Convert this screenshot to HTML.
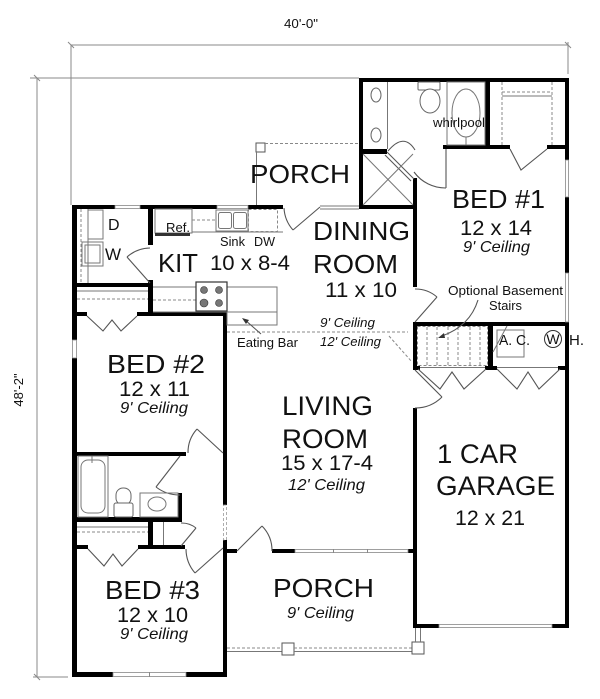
<!DOCTYPE html>
<html><head><meta charset="utf-8"><style>
html,body{margin:0;padding:0;background:#fff;width:600px;height:699px;overflow:hidden;}
svg{display:block;}
text{font-family:"Liberation Sans",Arial,sans-serif;fill:#111;}
.i{font-style:italic;}
.t{stroke:#777;stroke-width:1;fill:none;}
.d{stroke:#555;stroke-width:1.1;fill:none;}
.ds{stroke:#888;stroke-width:1;fill:none;stroke-dasharray:3 2;}
.win{fill:#fff;stroke:#888;stroke-width:0.8;}
.fx{stroke:#666;stroke-width:1;fill:#fff;}
</style></head><body>
<svg width="600" height="699" viewBox="0 0 600 699" xmlns="http://www.w3.org/2000/svg">
<g stroke="#888" stroke-width="1" fill="none">
<line x1="71" y1="45" x2="568" y2="45"/>
<line x1="68" y1="42" x2="74" y2="48"/>
<line x1="565" y1="42" x2="571" y2="48"/>
<line x1="71" y1="45" x2="71" y2="205"/>
<line x1="568" y1="42" x2="568" y2="74"/>
<line x1="30" y1="78" x2="359" y2="78"/>
<line x1="37" y1="78" x2="37" y2="677"/>
<line x1="34" y1="75" x2="40" y2="81"/>
<line x1="34" y1="674" x2="40" y2="680"/>
<line x1="33" y1="677" x2="68" y2="677"/>
</g>
<text x="284" y="28" font-size="12.5" textLength="34" lengthAdjust="spacingAndGlyphs">40'-0"</text>
<text transform="translate(23,390) rotate(-90)" text-anchor="middle" font-size="13">48'-2"</text>

<rect x="256" y="143" width="9" height="9" fill="#fff" stroke="#555" stroke-width="1"/>
<line x1="265" y1="143.5" x2="359" y2="143.5" class="ds"/>
<line x1="256.5" y1="152" x2="256.5" y2="205" class="t"/>
<line x1="320" y1="206" x2="359" y2="206" class="t"/>
<line x1="320" y1="209" x2="359" y2="209" class="t"/>

<line x1="227" y1="648" x2="282" y2="648" class="ds"/>
<line x1="227" y1="651.5" x2="282" y2="651.5" class="t"/>
<rect x="282" y="643" width="12" height="12" fill="#fff" stroke="#555"/>
<line x1="294" y1="648" x2="412" y2="648" class="ds"/>
<line x1="294" y1="651.5" x2="412" y2="651.5" class="t"/>
<rect x="412" y="642" width="12" height="12" fill="#fff" stroke="#555"/>
<line x1="415.5" y1="628" x2="415.5" y2="642" class="t"/>
<line x1="420.5" y1="628" x2="420.5" y2="642" class="t"/>

<g fill="#000">
<rect x="72" y="205" width="5" height="135"/>
<rect x="72" y="358" width="5" height="319"/>
<rect x="72" y="205" width="43" height="4"/>
<rect x="140" y="205" width="77" height="4"/>
<rect x="248" y="205" width="35" height="4"/>
<rect x="148" y="205" width="5" height="40"/>
<rect x="148" y="280" width="5" height="36"/>
<rect x="72" y="283" width="78" height="4"/>
<rect x="72" y="312" width="15" height="4"/>
<rect x="137" y="312" width="90" height="4"/>
<rect x="223" y="312" width="4" height="193"/>
<rect x="223" y="540" width="4" height="137"/>
<rect x="72" y="452" width="114" height="4"/>
<rect x="178" y="493" width="4" height="29"/>
<rect x="72" y="517" width="110" height="5"/>
<rect x="148" y="517" width="5" height="31"/>
<rect x="72" y="545" width="16" height="4"/>
<rect x="138" y="545" width="47" height="4"/>
<rect x="72" y="672" width="41" height="5"/>
<rect x="186" y="672" width="41" height="5"/>
<rect x="223" y="549" width="14" height="4"/>
<rect x="272" y="549" width="23" height="4"/>
<rect x="408" y="549" width="9" height="4"/>
<rect x="413" y="178" width="4" height="109"/>
<rect x="413" y="322" width="4" height="48"/>
<rect x="413" y="408" width="4" height="220"/>
<rect x="359" y="78" width="4" height="131"/>
<rect x="359" y="149" width="28" height="5"/>
<rect x="359" y="205" width="58" height="4"/>
<rect x="359" y="78" width="210" height="4"/>
<rect x="485" y="78" width="5" height="71"/>
<rect x="443" y="145" width="67" height="4"/>
<rect x="547" y="145" width="22" height="4"/>
<rect x="565" y="78" width="4" height="82"/>
<rect x="565" y="197" width="4" height="76"/>
<rect x="565" y="322" width="4" height="306"/>
<rect x="413" y="322" width="156" height="4"/>
<rect x="488" y="322" width="5" height="48"/>
<rect x="413" y="366" width="7" height="4"/>
<rect x="485" y="366" width="12" height="4"/>
<rect x="558" y="366" width="11" height="4"/>
<rect x="413" y="624" width="26" height="4"/>
<rect x="552" y="624" width="17" height="4"/>
</g>
<line x1="420" y1="367.5" x2="485" y2="367.5" class="t"/>
<line x1="497" y1="367.5" x2="558" y2="367.5" class="t"/>

<rect x="72.5" y="340" width="4" height="18" class="win"/>
<rect x="115" y="205.5" width="25" height="3" class="win"/>
<rect x="217" y="205.5" width="31" height="3" class="win"/>
<rect x="223.5" y="505" width="3" height="35" fill="#fff" stroke="#999" stroke-width="0.8" stroke-dasharray="3 2"/>
<rect x="113" y="672.5" width="73" height="4" class="win"/>
<line x1="149.5" y1="672" x2="149.5" y2="677" stroke="#888"/>
<rect x="295" y="549.5" width="113" height="3" class="win"/>
<line x1="333.5" y1="549" x2="333.5" y2="553" stroke="#888"/>
<line x1="367.5" y1="549" x2="367.5" y2="553" stroke="#888"/>
<rect x="565.5" y="160" width="3" height="37" class="win"/>
<rect x="565.5" y="273" width="3" height="49" class="win"/>
<rect x="439" y="624.5" width="113" height="3" class="win"/>

<g class="d">
<line x1="320" y1="207" x2="293" y2="230"/><path d="M293,230 A36,36 0 0 1 284,208"/>
<line x1="415" y1="322" x2="437" y2="297"/><path d="M437,297 A33,33 0 0 0 415,289"/>
<line x1="415" y1="370" x2="442" y2="397"/><path d="M442,397 A38,38 0 0 1 415,408"/>
<line x1="237" y1="551" x2="262" y2="526"/><path d="M262,526 A35,35 0 0 1 272,551"/>
<line x1="223" y1="453" x2="197" y2="429"/><path d="M197,429 A35,35 0 0 0 188,453"/>
<line x1="180" y1="456" x2="156" y2="487"/><path d="M156,487 A39,39 0 0 0 180,495"/>
<line x1="223" y1="548" x2="195" y2="573"/><path d="M195,573 A37,37 0 0 1 186,549"/>
<line x1="150" y1="283" x2="127" y2="257"/><path d="M127,257 A35,35 0 0 1 150,248"/>
<line x1="181" y1="546" x2="196" y2="528"/><path d="M196,528 A23,23 0 0 0 181,523"/>
<line x1="446" y1="149" x2="446" y2="188"/><path d="M446,188 A39,39 0 0 1 414,172"/>
<path d="M388,151 Q404,132 415,150"/>
<line x1="387" y1="152" x2="414" y2="179"/><line x1="385" y1="155" x2="411" y2="181"/>
<polyline points="87,316 103,331 112,320 121,331 137,316"/>
<polyline points="88,549 104,566 113,554 122,566 138,549"/>
<polyline points="510,149 521,170 547,149"/>
<polyline points="418,369 440,389 452,372 464,389 486,369"/>
<polyline points="497,369 517,389 528,372 539,389 560,369"/>
</g>

<line x1="363" y1="154" x2="413" y2="205" class="t"/>
<line x1="363" y1="205" x2="413" y2="154" class="t"/>

<rect x="418" y="82" width="22" height="8" rx="1" class="fx"/>
<ellipse cx="430" cy="101" rx="10" ry="12" class="fx"/>
<line x1="387.5" y1="82" x2="387.5" y2="149" class="t"/>
<ellipse cx="376" cy="95" rx="5" ry="7" class="fx"/>
<ellipse cx="376" cy="135" rx="5" ry="7" class="fx"/>
<rect x="447" y="82" width="38" height="63" class="t"/>
<ellipse cx="466" cy="113" rx="14" ry="24" class="t"/>
<line x1="466" y1="137" x2="466" y2="145" class="t"/>
<line x1="502" y1="82" x2="502" y2="145" class="ds"/>
<line x1="552" y1="82" x2="552" y2="145" class="ds"/>
<line x1="502" y1="92" x2="552" y2="92" class="ds"/>
<line x1="502" y1="96" x2="552" y2="96" class="t"/>

<rect x="417.5" y="326.5" width="70" height="39" class="ds"/>
<g class="ds">
<line x1="427" y1="327" x2="427" y2="365"/><line x1="437" y1="327" x2="437" y2="365"/>
<line x1="448" y1="327" x2="448" y2="365"/><line x1="458" y1="327" x2="458" y2="365"/>
<line x1="470" y1="327" x2="470" y2="365"/><line x1="480" y1="327" x2="480" y2="365"/>
</g>
<rect x="497" y="330" width="27" height="27" class="t"/>
<line x1="493" y1="352" x2="507" y2="326" class="t"/>
<circle cx="553" cy="339" r="8.5" fill="#fff" stroke="#333" stroke-width="1"/>

<rect x="155" y="209" width="37" height="24" class="t"/>
<rect x="155" y="233" width="35" height="3" fill="#333"/>
<line x1="192" y1="232" x2="283" y2="232" class="t"/>
<line x1="192" y1="220" x2="216" y2="220" class="ds"/>
<rect x="216" y="210" width="32" height="21" class="t"/>
<rect x="218.5" y="212.5" width="13" height="16" rx="2" class="t"/>
<rect x="233.5" y="212.5" width="13" height="16" rx="2" class="t"/>
<rect x="248.5" y="209.5" width="29" height="22" class="ds"/>
<line x1="153" y1="287" x2="277" y2="287" class="t"/>
<line x1="153" y1="312" x2="277" y2="312" class="t"/>
<line x1="153" y1="300" x2="196" y2="300" class="ds"/>
<rect x="227" y="287" width="50" height="38" class="t"/>
<rect x="196" y="282" width="31" height="29" fill="#fff" stroke="#333" stroke-width="1.2"/>
<g fill="#777" stroke="#333" stroke-width="0.6">
<circle cx="204" cy="290" r="3.5"/><circle cx="219" cy="290" r="3.5"/>
<circle cx="204" cy="303" r="4"/><circle cx="219" cy="303" r="3.5"/>
</g>

<line x1="81" y1="209" x2="81" y2="283" class="ds"/>
<line x1="88" y1="209" x2="88" y2="283" class="t"/>
<rect x="88" y="210" width="15" height="29" class="t"/>
<rect x="82" y="242" width="21" height="24" class="t"/>
<rect x="85" y="245" width="15" height="18" class="t"/>
<line x1="77" y1="291" x2="148" y2="291" class="t"/>
<line x1="77" y1="299" x2="148" y2="299" class="ds"/>

<rect x="78" y="456" width="30" height="61" class="t"/>
<rect x="81" y="460" width="24" height="53" rx="7" class="t"/>
<line x1="92" y1="456" x2="92" y2="463" class="t"/>
<rect x="116" y="488" width="15" height="17" rx="7" class="fx"/>
<rect x="114" y="503" width="19" height="14" rx="2" class="fx"/>
<rect x="140" y="493" width="38" height="24" class="t"/>
<ellipse cx="157" cy="504" rx="9" ry="7" class="t"/>
<line x1="77" y1="527" x2="148" y2="527" class="t"/>
<line x1="77" y1="532" x2="148" y2="532" class="ds"/>
<line x1="163.5" y1="522" x2="163.5" y2="545" class="t"/>

<line x1="227" y1="332" x2="408" y2="332" class="ds"/>
<line x1="389" y1="336" x2="412" y2="362" class="ds"/>
<path d="M261,334 Q252,326 245,320" class="d"/>
<polygon points="242,318 249,320 246,324" fill="#333"/>
<path d="M478,300 Q470,326 442,336" class="d"/>
<polygon points="438,338 444,333 445,338" fill="#333"/>

<text x="250" y="183" font-size="26" textLength="100" lengthAdjust="spacingAndGlyphs">PORCH</text>
<text x="313" y="240" font-size="26" textLength="97" lengthAdjust="spacingAndGlyphs">DINING</text>
<text x="313" y="273" font-size="26" textLength="85" lengthAdjust="spacingAndGlyphs">ROOM</text>
<text x="325" y="297" font-size="21" textLength="72" lengthAdjust="spacingAndGlyphs">11 x 10</text>
<text x="452" y="208" font-size="26" textLength="93" lengthAdjust="spacingAndGlyphs">BED #1</text>
<text x="460" y="235" font-size="21" textLength="72" lengthAdjust="spacingAndGlyphs">12 x 14</text>
<text x="463" y="252" font-size="16" class="i" textLength="67" lengthAdjust="spacingAndGlyphs">9' Ceiling</text>
<text x="433" y="127" font-size="13" textLength="52" lengthAdjust="spacingAndGlyphs">whirlpool</text>
<text x="448" y="295" font-size="13" textLength="115" lengthAdjust="spacingAndGlyphs">Optional Basement</text>
<text x="489" y="310" font-size="13" textLength="33" lengthAdjust="spacingAndGlyphs">Stairs</text>
<text x="499" y="345" font-size="15" textLength="31" lengthAdjust="spacingAndGlyphs">A. C.</text>
<text x="553" y="344" font-size="14" text-anchor="middle">W</text>
<text x="569" y="345" font-size="15">H.</text>
<text x="158" y="272" font-size="26" textLength="40" lengthAdjust="spacingAndGlyphs">KIT</text>
<text x="210" y="270" font-size="21" textLength="80" lengthAdjust="spacingAndGlyphs">10 x 8-4</text>
<text x="108" y="230" font-size="16">D</text>
<text x="105" y="260" font-size="17">W</text>
<text x="166" y="232" font-size="12.5" textLength="24" lengthAdjust="spacingAndGlyphs">Ref.</text>
<text x="220" y="246" font-size="13" textLength="25" lengthAdjust="spacingAndGlyphs">Sink</text>
<text x="254" y="246" font-size="13" textLength="21" lengthAdjust="spacingAndGlyphs">DW</text>
<text x="237" y="347" font-size="13" textLength="61" lengthAdjust="spacingAndGlyphs">Eating Bar</text>
<text x="320" y="327" font-size="13" class="i" textLength="55" lengthAdjust="spacingAndGlyphs">9' Ceiling</text>
<text x="320" y="346" font-size="13" class="i" textLength="61" lengthAdjust="spacingAndGlyphs">12' Ceiling</text>
<text x="107" y="373" font-size="26" textLength="98" lengthAdjust="spacingAndGlyphs">BED #2</text>
<text x="119" y="396" font-size="21" textLength="71" lengthAdjust="spacingAndGlyphs">12 x 11</text>
<text x="120" y="413" font-size="16" class="i" textLength="68" lengthAdjust="spacingAndGlyphs">9' Ceiling</text>
<text x="282" y="415" font-size="27" textLength="91" lengthAdjust="spacingAndGlyphs">LIVING</text>
<text x="282" y="448" font-size="27" textLength="86" lengthAdjust="spacingAndGlyphs">ROOM</text>
<text x="281" y="470" font-size="21" textLength="92" lengthAdjust="spacingAndGlyphs">15 x 17-4</text>
<text x="288" y="490" font-size="16" class="i" textLength="77" lengthAdjust="spacingAndGlyphs">12' Ceiling</text>
<text x="437" y="463" font-size="27" textLength="81" lengthAdjust="spacingAndGlyphs">1 CAR</text>
<text x="436" y="495" font-size="27" textLength="119" lengthAdjust="spacingAndGlyphs">GARAGE</text>
<text x="455" y="525" font-size="21" textLength="70" lengthAdjust="spacingAndGlyphs">12 x 21</text>
<text x="273" y="597" font-size="26" textLength="101" lengthAdjust="spacingAndGlyphs">PORCH</text>
<text x="287" y="618" font-size="16" class="i" textLength="67" lengthAdjust="spacingAndGlyphs">9' Ceiling</text>
<text x="105" y="599" font-size="26" textLength="95" lengthAdjust="spacingAndGlyphs">BED #3</text>
<text x="117" y="622" font-size="21" textLength="71" lengthAdjust="spacingAndGlyphs">12 x 10</text>
<text x="120" y="639" font-size="16" class="i" textLength="68" lengthAdjust="spacingAndGlyphs">9' Ceiling</text>
</svg>
</body></html>
